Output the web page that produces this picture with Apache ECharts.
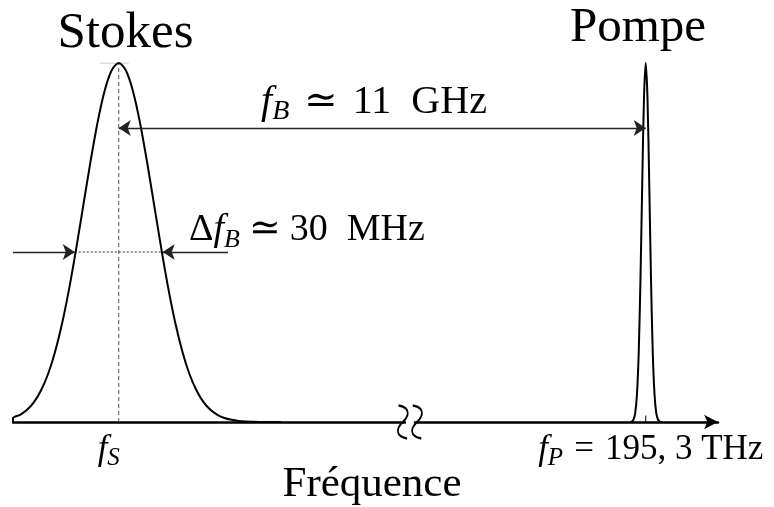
<!DOCTYPE html>
<html><head><meta charset="utf-8">
<script src="https://cdn.jsdelivr.net/npm/echarts@6/dist/echarts.min.js"></script>
<style>html,body{margin:0;padding:0;background:#fff}#c{width:774px;height:507px}</style>
</head><body><div id="c"></div>
<script>
// ---- data ----
const stokesFreq = [0, 0, 1, 2, 3, 4, 5, 6, 7, 8, 9, 10, 11, 12, 13, 14, 15, 16, 17, 18, 19, 20, 21, 22, 23, 24, 25, 26, 27, 28, 29, 30, 31, 32, 33, 35, 38];
const stokesAmp  = [0, 0.011, 0.020, 0.034, 0.056, 0.089, 0.135, 0.198, 0.278, 0.375, 0.487, 0.607, 0.726, 0.835, 0.923, 0.980, 1, 0.980, 0.923, 0.835, 0.726, 0.607, 0.487, 0.375, 0.278, 0.198, 0.135, 0.089, 0.056, 0.034, 0.020, 0.011, 0.006, 0.003, 0.0016, 0.0003, 0];
const pumpFreq = [87.5, 87.75, 88, 88.25, 88.5, 88.75, 89, 89.25, 89.5, 89.75, 90, 90.25, 90.5, 90.75, 91, 91.25, 91.5, 91.75, 92];
const pumpAmp  = [0, 0.0013, 0.0063, 0.0243, 0.0756, 0.191, 0.395, 0.661, 0.902, 1, 0.902, 0.661, 0.395, 0.191, 0.0756, 0.0243, 0.0063, 0.0013, 0];
const stokesCenter = 15;
const pumpCenter = 89.75;
const fbLevel = 0.819;
const halfLevel = 0.4735;
const halfLeft = 8.76;
const halfRight = 21.24;
const dfArrowStart = [0, 30.5];
const breakAt = 56.3;
const tickLabels = ['{i|f}{s|S}{g| }', '{h| }{i|f}{s|P}{r|=}{m|195, 3 THz}'];
const titles = ['Stokes', 'Pompe'];
const fbText = '{i|f}{s|B}{r|≃}{m|11\u2002GHz}';
const dfText = '{m|Δ}{i|f}{s|B}{r|≃}{m|30  MHz}';
const xName = 'Fréquence';

// ---- chart ----
const serif = '"Liberation Serif", "DejaVu Serif", serif';
function makeRich(F, S, padR) {
  return {
    m: {fontFamily: serif, fontSize: F, lineHeight: F + 4, verticalAlign: 'top', color: '#000', fill: '#000'},
    r: {fontFamily: serif, fontSize: F, lineHeight: F + 4, verticalAlign: 'top', color: '#000', fill: '#000', padding: [0, padR, 0, padR]},
    i: {fontFamily: serif, fontStyle: 'italic', fontSize: F, lineHeight: F + 4, verticalAlign: 'top', color: '#000', fill: '#000'},
    s: {fontFamily: serif, fontStyle: 'italic', fontSize: S, verticalAlign: 'bottom', color: '#000', fill: '#000'},
    g: {fontSize: F, width: 20},
    h: {fontSize: F, width: 10}
  };
}
const richFb = makeRich(40, 28, 15);
const richDf = makeRich(38, 26, 9);
const richAxis = makeRich(35, 25, 11);
const pairs = (xs, ys) => xs.map((x, k) => [x, ys[k]]);
const plain = (name, data, ls, extra) => Object.assign({
  type: 'line', name, data, showSymbol: false, symbol: 'none', silent: true,
  emphasis: {disabled: true}, lineStyle: ls, animation: false
}, extra || {});
const arrowStyle = {type: 'solid', color: '#222', width: 1.3};

const chart = echarts.init(document.getElementById('c'), null, {renderer: 'canvas'});
chart.setOption({
  animation: false,
  grid: {left: 13, right: 56, top: 63, bottom: 85, outerBoundsMode: 'none', containLabel: false},
  xAxis: {
    type: 'value', min: 0, max: 100,
    axisLine: {show: true, onZero: false, symbol: ['none', 'arrow'], symbolSize: [11, 14], lineStyle: {color: '#000', width: 2.5}},
    axisTick: {show: false}, splitLine: {show: false},
    axisLabel: {
      customValues: [stokesCenter, pumpCenter],
      formatter: v => (Math.abs(v - stokesCenter) < 1e-6 ? tickLabels[0] : tickLabels[1]),
      margin: 10, rich: richAxis
    },
    name: xName, nameLocation: 'middle', nameGap: 41, nameMoveOverlap: false,
    nameTextStyle: {fontFamily: serif, fontSize: 43, color: '#000', padding: [0, 0, 0, 13]}
  },
  yAxis: {type: 'value', min: 0, max: 1, show: false},
  series: [
    plain('center', [[stokesCenter, 0], [stokesCenter, 1]], {color: '#555', width: 1, type: [4, 3]}),
    plain('top', [[12.4, 1], [16.4, 1]], {color: '#bbb', width: 1}),
    plain('half', [[halfLeft, halfLevel], [halfRight, halfLevel]], {color: '#444', width: 1.2, type: [2, 2]}),
    plain('Stokes', pairs(stokesFreq, stokesAmp), {color: '#000', width: 2}, {smooth: 0.3}),
    plain('Pompe', pairs(pumpFreq, pumpAmp), {color: '#000', width: 2}, {smooth: 0.3}),
    plain('pumpTick', [[pumpCenter, 0], [pumpCenter, 0.018]], {color: '#000', width: 1}),
    plain('annot', [], {color: '#000'}, {
      markLine: {
        silent: true, animation: false, symbolSize: 12, label: {show: false}, emphasis: {disabled: true},
        lineStyle: arrowStyle,
        data: [
          [{coord: [stokesCenter, fbLevel], symbol: 'arrow'}, {coord: [pumpCenter, fbLevel], symbol: 'arrow'}],
          [{coord: [dfArrowStart[0], halfLevel], symbol: 'none'}, {coord: [halfLeft, halfLevel], symbol: 'arrow'}],
          [{coord: [dfArrowStart[1], halfLevel], symbol: 'none'}, {coord: [halfRight, halfLevel], symbol: 'arrow'}]
        ]
      },
      markPoint: {
        silent: true, animation: false, label: {show: false},
        data: [
          {coord: [breakAt, 0], symbol: 'rect', symbolSize: [8, 6], itemStyle: {color: '#fff', borderWidth: 0}},
          {coord: [breakAt, 0], symbol: 'path://M3 0 C11 2 11 10 6 17 C1 24 1 32 9 34 M13 0 C21 2 21 10 16 17 C11 24 11 32 19 34',
           symbolSize: [24, 33], itemStyle: {color: 'transparent', borderColor: '#000', borderWidth: 2}}
        ]
      }
    })
  ],
  graphic: [
    {type: 'text', x: 125.5, y: 34, style: {text: titles[0], fontFamily: serif, fontSize: 51, fill: '#000', align: 'center', verticalAlign: 'middle'}},
    {type: 'text', x: 638, y: 28, style: {text: titles[1], fontFamily: serif, fontSize: 49, fill: '#000', align: 'center', verticalAlign: 'middle'}},
    {type: 'text', x: 374, y: 82, style: {text: fbText, rich: richFb, fill: '#000', align: 'center', verticalAlign: 'top'}},
    {type: 'text', x: 307, y: 211, style: {text: dfText, rich: richDf, fill: '#000', align: 'center', verticalAlign: 'top'}}
  ]
});
</script></body></html>
